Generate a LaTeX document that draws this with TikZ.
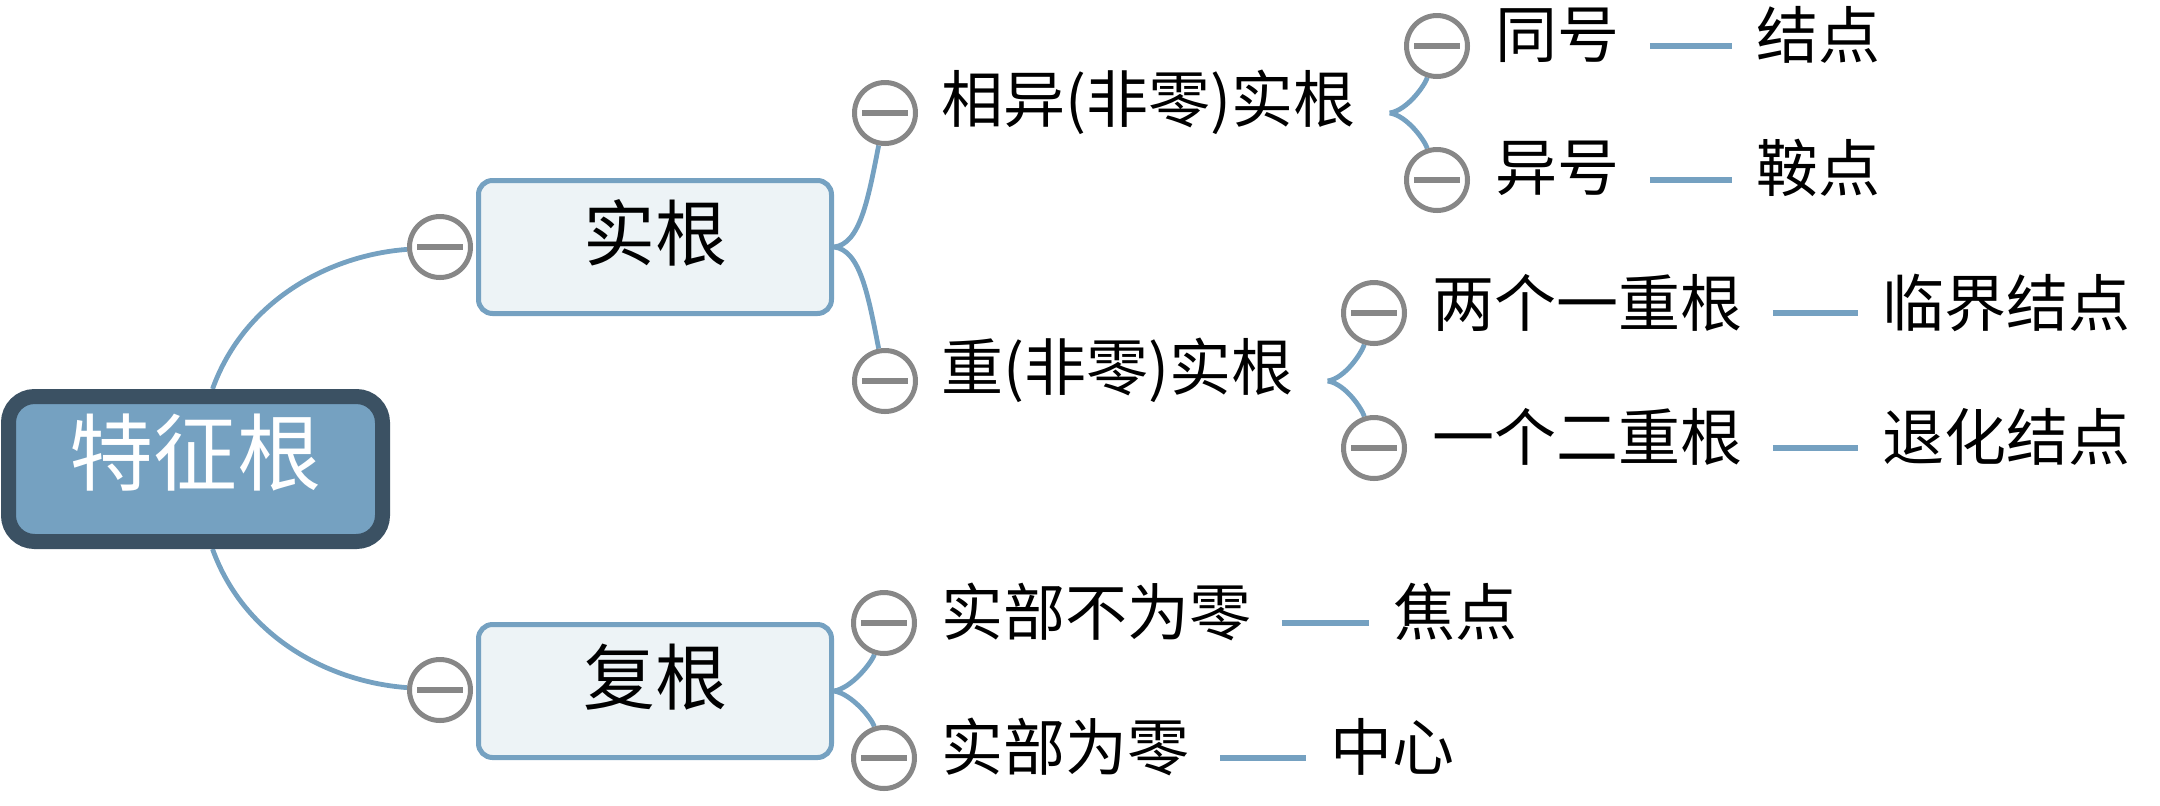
\documentclass[tikz,border=0pt]{standalone}
\usepackage{fontspec}
\newfontfamily\cjk{Noto Sans CJK SC}
\definecolor{lineblue}{HTML}{75A1C1}
\definecolor{boxfill}{HTML}{EDF3F6}
\definecolor{rootfill}{HTML}{75A1C1}
\definecolor{rootborder}{HTML}{3B5163}
\definecolor{toggray}{HTML}{878787}
\pgfdeclarelayer{bg}
\pgfsetlayers{bg,main}
\begin{document}
\begin{tikzpicture}[x=0.5pt,y=-0.5pt,
  rootbox/.style={draw=rootborder, fill=rootfill, line width=7.5pt, rounded corners=13pt,
    minimum width=187pt, minimum height=72.5pt, inner sep=0pt},
  roottext/.style={text=white, inner sep=0pt, font=\cjk\fontsize{42pt}{42pt}\selectfont},
  subbox/.style={draw=lineblue, fill=boxfill, line width=2.5pt, rounded corners=7pt,
    minimum width=176.5pt, minimum height=66.5pt, inner sep=0pt},
  subtext/.style={inner sep=0pt, font=\cjk\fontsize{36pt}{36pt}\selectfont},
  leaf/.style={inner sep=0pt, anchor=west, font=\cjk\fontsize{31pt}{31pt}\selectfont},
  tog/.style={circle, draw=toggray, line width=2.5pt, fill=white, minimum size=30.5pt, inner sep=0pt,
    path picture={\draw[toggray, line width=2.8pt]
      ([xshift=-11.5pt]path picture bounding box.center) -- ([xshift=11.5pt]path picture bounding box.center);}},
  conn/.style={draw=lineblue, line width=2.4pt},
  dashline/.style={draw=lineblue, line width=2.8pt, shorten <=15pt, shorten >=12pt}
]
\useasboundingbox (0,0) rectangle (2160,805);

% root and main boxes
\node[rootbox] (root) at (195.5,469) {};
\node[roottext] (roott) at ([yshift=8pt]root.center) {特征根};
\node[subbox] (sbox) at (655,247) {};
\node[subtext] (sboxt) at ([yshift=7pt]sbox.center) {实根};
\node[subbox] (fbox) at (655,691) {};
\node[subtext] (fboxt) at ([yshift=7pt]fbox.center) {复根};

% toggles
\node[tog] (cS) at (440,247) {};
\node[tog] (cF) at (440,690) {};
\node[tog] (c1) at (885,113) {};
\node[tog] (c2) at (885,381) {};
\node[tog] (c11) at (1437,46) {};
\node[tog] (c12) at (1437,180) {};
\node[tog] (c21) at (1374,313) {};
\node[tog] (c22) at (1374,448) {};
\node[tog] (cF1) at (884,623) {};
\node[tog] (cF2) at (884,758) {};

% texts
\node[leaf] (t1) at (941,102) {相异(非零)实根};
\node[leaf] (t2) at (941,370) {重(非零)实根};
\node[leaf] (t11) at (1495,35) {同号};
\node[leaf] (u11) at (1756,35) {结点};
\node[leaf] (t12) at (1495,168) {异号};
\node[leaf] (u12) at (1756,168) {鞍点};
\node[leaf] (t21) at (1432,303) {两个一重根};
\node[leaf] (u21) at (1882,303) {临界结点};
\node[leaf] (t22) at (1432,437) {一个二重根};
\node[leaf] (u22) at (1882,437) {退化结点};
\node[leaf] (tF1) at (941,612) {实部不为零};
\node[leaf] (uF1) at (1393,612) {焦点};
\node[leaf] (tF2) at (941,747) {实部为零};
\node[leaf] (uF2) at (1330,747) {中心};

\path (t1.east |- c1) ++(34,0) coordinate (b1);
\path (t2.east |- c2) ++(34,0) coordinate (b2);

\begin{pgfonlayer}{bg}
\draw[conn] ([xshift=8.5pt]root.north) .. controls +(32,-89) and +(-110,8) .. (cS);
\draw[conn] ([xshift=8.5pt]root.south) .. controls +(32,89) and +(-110,-8) .. (cF);
\draw[conn] (sbox.east) .. controls +(26,-3) and +(-17,87) .. (c1);
\draw[conn] (sbox.east) .. controls +(26,3) and +(-17,-87) .. (c2);
\draw[conn] (b1) .. controls +(18,-3) and +(-12,39) .. (c11);
\draw[conn] (b1) .. controls +(18,3) and +(-12,-39) .. (c12);
\draw[conn] (b2) .. controls +(18,-3) and +(-12,39) .. (c21);
\draw[conn] (b2) .. controls +(18,3) and +(-12,-39) .. (c22);
\draw[conn] (fbox.east) .. controls +(18,-3) and +(-12,39) .. (cF1);
\draw[conn] (fbox.east) .. controls +(18,3) and +(-12,-39) .. (cF2);
\end{pgfonlayer}

% dashes
\draw[dashline] (t11.east |- c11) -- (u11.west |- c11);
\draw[dashline] (t12.east |- c12) -- (u12.west |- c12);
\draw[dashline] (t21.east |- c21) -- (u21.west |- c21);
\draw[dashline] (t22.east |- c22) -- (u22.west |- c22);
\draw[dashline] (tF1.east |- cF1) -- (uF1.west |- cF1);
\draw[dashline] (tF2.east |- cF2) -- (uF2.west |- cF2);
\end{tikzpicture}
\end{document}
